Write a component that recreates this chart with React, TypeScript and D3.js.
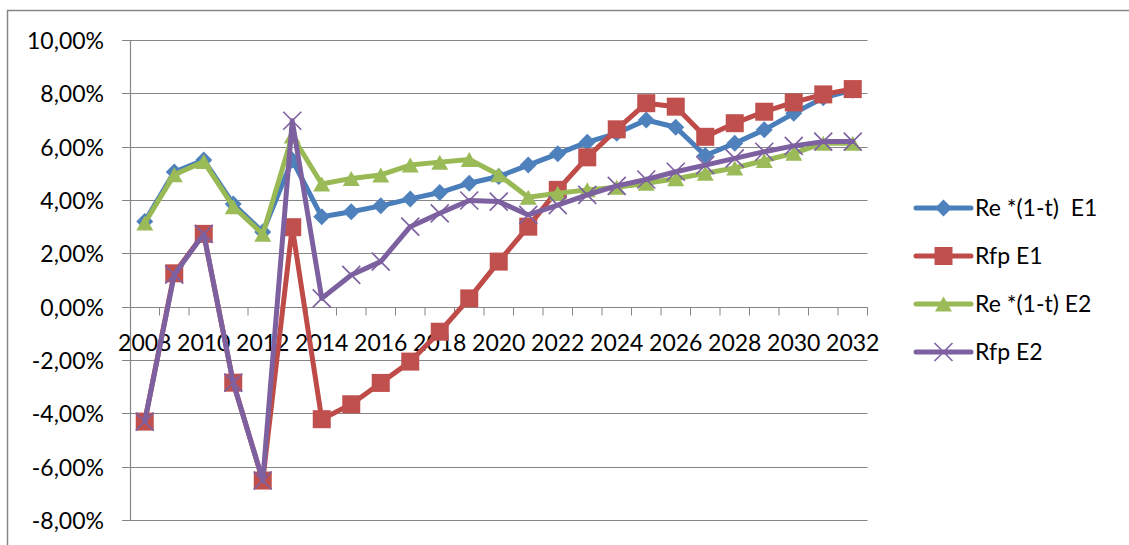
import React from "react";
import * as d3 from "d3";

// Years on the category axis
const years: number[] = d3.range(2008, 2033);

// Series values, in percent
const reE1: number[] = [
  3.19, 5.05, 5.5, 3.85, 2.8, 5.5, 3.37, 3.56, 3.78, 4.04, 4.28, 4.63, 4.88,
  5.31, 5.73, 6.17, 6.5, 7.0, 6.73, 5.67, 6.13, 6.63, 7.25, 7.83, 8.12,
];
const rfpE1: number[] = [
  -4.31, 1.25, 2.73, -2.85, -6.52, 2.98, -4.22, -3.66, -2.86, -2.06, -0.94,
  0.31, 1.69, 3.0, 4.38, 5.6, 6.65, 7.63, 7.5, 6.37, 6.88, 7.31, 7.66, 7.96,
  8.16,
];
const reE2: number[] = [
  3.14, 4.95, 5.44, 3.75, 2.72, 6.4, 4.6, 4.81, 4.94, 5.31, 5.42, 5.52, 4.95,
  4.1, 4.25, 4.38, 4.48, 4.63, 4.8, 5.0, 5.2, 5.48, 5.75, 6.13, 6.13,
];
const rfpE2: number[] = [
  -4.31, 1.2, 2.73, -2.85, -6.52, 6.97, 0.31, 1.19, 1.69, 3.0, 3.5, 3.98, 3.94,
  3.44, 3.81, 4.19, 4.53, 4.77, 5.06, 5.31, 5.56, 5.81, 6.03, 6.19, 6.19,
];

const seriesNames: string[] = ["Re *(1-t)  E1", "Rfp E1", "Re *(1-t) E2", "Rfp E2"];
const yTicks: number[] = [-8, -6, -4, -2, 0, 2, 4, 6, 8, 10];
const xLabelYears: number[] = years.filter((y) => (y - 2008) % 2 === 0);

type MarkerKind = "diamond" | "square" | "triangle" | "cross";

const seriesList = [
  { name: seriesNames[0], values: reE1, line: "#4A7EBB", fill: "#4F81BD", marker: "diamond" as MarkerKind },
  { name: seriesNames[1], values: rfpE1, line: "#BE4B48", fill: "#C0504D", marker: "square" as MarkerKind },
  { name: seriesNames[2], values: reE2, line: "#98B954", fill: "#9BBB59", marker: "triangle" as MarkerKind },
  { name: seriesNames[3], values: rfpE2, line: "#7D60A0", fill: "#8064A2", marker: "cross" as MarkerKind },
];

const W = 1129;
const H = 545;
const plot = { left: 130, right: 867.5, top: 40, bottom: 520 };
const FONT = "Lato, 'Open Sans', sans-serif";
const GRID = "#868686";

// Percent label with a decimal comma and a plain hyphen for negatives
const fmtPct = (t: number) => t.toFixed(2).replace(".", ",") + "%";

function Marker({ kind, x, y, fill, stroke }: { kind: MarkerKind; x: number; y: number; fill: string; stroke: string }) {
  if (kind === "diamond") {
    const r = 8.5;
    return <path d={`M${x},${y - r}L${x + r},${y}L${x},${y + r}L${x - r},${y}Z`} fill={fill} />;
  }
  if (kind === "square") {
    const s = 18;
    return <rect x={x - s / 2} y={y - s / 2} width={s} height={s} fill={fill} />;
  }
  if (kind === "triangle") {
    const w = 17;
    const h = 15;
    return <path d={`M${x},${y - h / 2}L${x + w / 2},${y + h / 2}L${x - w / 2},${y + h / 2}Z`} fill={fill} />;
  }
  const r = 9;
  return (
    <path
      d={`M${x - r},${y - r}L${x + r},${y + r}M${x - r},${y + r}L${x + r},${y - r}`}
      stroke={stroke}
      strokeWidth={1.6}
      fill="none"
    />
  );
}

export default function App() {
  const x = d3
    .scaleBand<number>()
    .domain(years)
    .range([plot.left, plot.right])
    .padding(0);
  const bw = x.bandwidth();
  const cx = (yr: number) => (x(yr) as number) + bw / 2;
  const y = d3.scaleLinear().domain([-8, 10]).range([plot.bottom, plot.top]);

  const lineGen = d3
    .line<number>()
    .x((_, i) => cx(years[i]))
    .y((v) => y(v))
    .curve(d3.curveLinear);

  const y0 = Math.round(y(0)) + 0.5;
  const boundaries = years.map((yr) => (x(yr) as number) + bw);

  const legendX = 916;
  const legendY0 = 208;
  const legendGap = 48;

  return (
    <svg
      width={W}
      height={H}
      style={{ position: "absolute", left: 0, top: 0, background: "#fff" }}
      fontFamily={FONT}
    >
      <rect x={0} y={0} width={W} height={H} fill="#fff" />
      {/* outer chart border */}
      <path d={`M7.5,${H}V10.5H${W}`} stroke={GRID} strokeWidth={1.5} fill="none" />

      {/* horizontal gridlines */}
      {yTicks.map((t) => {
        const yy = Math.round(y(t)) + 0.5;
        return (
          <g key={t}>
            <line x1={plot.left} x2={plot.right} y1={yy} y2={yy} stroke={GRID} strokeWidth={1} />
            <line x1={plot.left - 8} x2={plot.left} y1={yy} y2={yy} stroke={GRID} strokeWidth={1} />
            <text x={104} y={yy} dy="0.36em" textAnchor="end" fontSize={23} fill="#000">
              {fmtPct(t)}
            </text>
          </g>
        );
      })}

      {/* vertical axis line */}
      <line x1={plot.left + 0.5} x2={plot.left + 0.5} y1={y(10)} y2={y(-8)} stroke={GRID} strokeWidth={1.2} />

      {/* category axis at zero with tick marks between categories */}
      <line x1={plot.left} x2={plot.right} y1={y0} y2={y0} stroke={GRID} strokeWidth={1.2} />
      {boundaries.map((b, i) => (
        <line key={i} x1={b} x2={b} y1={y0} y2={y0 + 8} stroke={GRID} strokeWidth={1} />
      ))}
      {xLabelYears.map((yr) => (
        <text key={yr} x={cx(yr)} y={350.5} textAnchor="middle" fontSize={23} fill="#000">
          {yr}
        </text>
      ))}

      {/* series lines and markers */}
      {seriesList.map((s) => (
        <g key={s.name}>
          <path
            d={lineGen(s.values) || ""}
            fill="none"
            stroke={s.line}
            strokeWidth={5}
            strokeLinejoin="round"
            strokeLinecap="round"
          />
          {s.values.map((v, i) => (
            <Marker key={i} kind={s.marker} x={cx(years[i])} y={y(v)} fill={s.fill} stroke={s.line} />
          ))}
        </g>
      ))}

      {/* legend */}
      {seriesList.map((s, i) => {
        const ly = legendY0 + i * legendGap;
        return (
          <g key={s.name}>
            <line
              x1={legendX}
              x2={legendX + 55}
              y1={ly}
              y2={ly}
              stroke={s.line}
              strokeWidth={5}
              strokeLinecap="round"
            />
            <Marker kind={s.marker} x={legendX + 27.5} y={ly} fill={s.fill} stroke={s.line} />
            <text x={legendX + 59} y={ly} dy="0.36em" fontSize={23} fill="#000" style={{ whiteSpace: "pre" }}>
              {s.name}
            </text>
          </g>
        );
      })}
    </svg>
  );
}
